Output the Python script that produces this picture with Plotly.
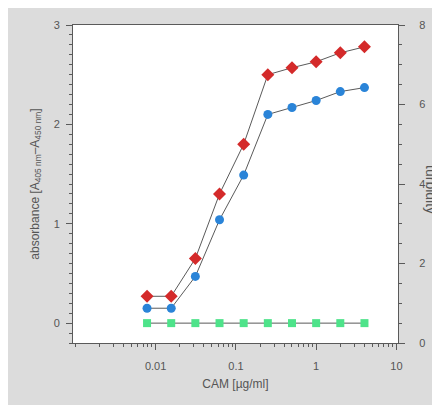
import plotly.graph_objects as go

cam = [0.0078125, 0.015625, 0.03125, 0.0625, 0.125, 0.25, 0.5, 1, 2, 4]
abs_red = [0.27, 0.27, 0.65, 1.30, 1.80, 2.50, 2.57, 2.63, 2.72, 2.78]
abs_blue = [0.15, 0.15, 0.47, 1.04, 1.49, 2.10, 2.17, 2.24, 2.33, 2.37]
turbidity_green = [0.5, 0.5, 0.5, 0.5, 0.5, 0.5, 0.5, 0.5, 0.5, 0.5]

line_col = "#5a5a5a"
fig = go.Figure()
fig.add_trace(go.Scatter(x=cam, y=abs_red, mode="lines+markers",
                         line=dict(color=line_col, width=1),
                         marker=dict(symbol="diamond", size=10, color="#d42a2a"),
                         showlegend=False))
fig.add_trace(go.Scatter(x=cam, y=abs_blue, mode="lines+markers",
                         line=dict(color=line_col, width=1),
                         marker=dict(symbol="circle", size=9, color="#2a84d8"),
                         showlegend=False))
fig.add_trace(go.Scatter(x=cam, y=turbidity_green, mode="lines+markers", yaxis="y2",
                         line=dict(color=line_col, width=1),
                         marker=dict(symbol="square", size=8, color="#4ee38a"),
                         showlegend=False))

axfont = dict(family="Liberation Sans, Arial, sans-serif", size=11, color="#555555")
fig.update_layout(
    width=440, height=405,
    margin=dict(l=65, r=50, t=17, b=70),
    paper_bgcolor="#dcdcdc", plot_bgcolor="#ffffff",
    font=axfont,
    xaxis=dict(type="log", range=[-3.03, 1.02], tickvals=[0.01, 0.1, 1, 10],
               ticktext=["0.01", "0.1", "1", "10"],
               ticks="outside", ticklen=6, tickcolor=line_col, ticklabelstandoff=7,
               showline=True, linecolor=line_col, linewidth=1, mirror=True,
               showgrid=False, zeroline=False,
               minor=dict(ticks="outside", ticklen=3, tickcolor=line_col, dtick="D1", showgrid=False),
               title=dict(text="CAM [µg/ml]", font=dict(size=12, color="#555555"), standoff=8)),
    yaxis=dict(range=[-0.2, 3.0], tickvals=[0, 1, 2, 3],
               ticks="outside", ticklen=6, tickcolor=line_col, ticklabelstandoff=4,
               showline=True, linecolor=line_col, linewidth=1,
               showgrid=False, zeroline=False,
               minor=dict(ticks="outside", ticklen=3, tickcolor=line_col, dtick=0.1, showgrid=False),
               title=dict(text="absorbance [A<sub>405 nm</sub>–A<sub>450 nm</sub>]",
                          font=dict(size=12, color="#555555"), standoff=11)),
    yaxis2=dict(range=[0, 8], overlaying="y", side="right", tickvals=[0, 2, 4, 6, 8],
                ticks="outside", ticklen=6, tickcolor=line_col, ticklabelstandoff=12,
                showline=True, linecolor=line_col, linewidth=1,
                showgrid=False, zeroline=False,
                minor=dict(ticks="outside", ticklen=3, tickcolor=line_col, dtick=0.5, showgrid=False)),
    annotations=[dict(text="turbidity", xref="paper", yref="paper", x=1, y=0.484,
                      xshift=33, xanchor="center", yanchor="middle", textangle=90,
                      showarrow=False, font=dict(size=14, color="#555555"))],
)
fig.write_html("out.html")
